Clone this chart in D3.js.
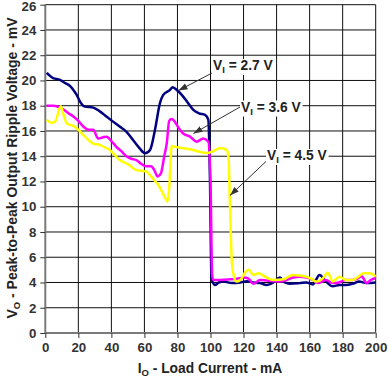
<!DOCTYPE html>
<html><head><meta charset="utf-8">
<script src="https://cdn.jsdelivr.net/npm/d3@7"></script>
<style>
html,body{margin:0;padding:0;background:#fff;}
svg{display:block;font-family:"Liberation Sans",Arial,sans-serif;}
</style></head>
<body><svg id="c" width="388" height="379"></svg>
<script>
// ---- data ----
const xTicks = [0,20,40,60,80,100,120,140,160,180,200];
const yTicks = [0,2,4,6,8,10,12,14,16,18,20,22,24,26];

const v27 = [[0.85,20.6],[4.8,20.18],[8.9,20.05],[11.9,19.8],[14.9,19.57],[16.9,19.26],[19,18.86],[21,18.33],[24,17.93],[29,17.85],[33,17.55],[37,17.14],[41,16.74],[45,16.35],[49,15.95],[53,15.3],[57,14.64],[60.3,14.24],[63.4,14.5],[66.4,16.1],[69.4,18.2],[71.4,18.86],[75.5,19.26],[77.1,19.47],[80,19.2],[83.5,18.72],[86.5,18.2],[89.6,17.67],[93,17.4],[96.7,17.27],[98.7,16.88],[99.7,12],[100.6,4.3],[102.7,3.8],[105,4.0],[108,4.07],[113,3.95],[118,4.0],[122,4.1],[126,4.0],[130,3.95],[134,3.8],[138,4.0],[142,4.4],[145,4.0],[148,3.9],[154,3.95],[158,4.0],[162,3.85],[166,4.6],[170,4.07],[174,3.7],[178,3.8],[182,3.8],[186,3.9],[190,4.07],[194.5,3.95],[200,4.0]];

const v36 = [[0.8,18.0],[5,18.0],[8,17.9],[11,17.7],[14,17.4],[17,17.15],[20,16.8],[23,16.35],[26,16.1],[29,16.1],[32,15.4],[35,15.5],[37,15.55],[40,15.2],[43,14.75],[46,14.4],[49,14.0],[52,13.8],[55,13.7],[58,13.4],[61,13.2],[64,13.2],[66,12.9],[68,12.4],[70,12.65],[72,14.0],[73.5,15.0],[75,16.8],[76.5,16.95],[78,16.8],[79.5,16.5],[81.5,16.1],[83.5,15.8],[87.6,15.55],[91.6,15.15],[95.6,15.4],[98.7,15.15],[100,12],[101,4.6],[101.7,4.2],[106,4.2],[111.8,4.25],[116,4.3],[120,4.4],[123,4.3],[126,3.9],[130,4.2],[134,4.15],[138,4.1],[142,4.07],[146,4.2],[150,4.4],[154,4.45],[158,4.4],[162,4.2],[165,3.95],[170,4.2],[173,4.0],[176,3.95],[182,4.2],[186,4.2],[189,4.3],[191.5,4.5],[194.5,3.95],[197,4.2],[200,4.35]];

const v45 = [[0.8,16.9],[4,16.65],[6,16.75],[9.3,17.95],[11,17.3],[13,16.6],[17,16.4],[20,16.1],[23,15.7],[26,15.3],[29,15.0],[33,14.9],[36,14.7],[39,14.5],[42,14.1],[45,13.7],[48,13.5],[51,13.3],[55,12.9],[58,12.85],[61,12.8],[64,12.4],[66,12.1],[68,11.8],[71,11.1],[73,10.6],[74,10.4],[75,11.5],[76.5,14.8],[78.5,14.75],[83,14.65],[87.6,14.55],[92,14.4],[97.7,14.25],[101.7,14.4],[105.7,14.65],[109.8,14.5],[111,13.7],[111.8,10],[113,5.5],[114,4.6],[115.8,4.07],[118,4.2],[121,4.8],[123,5.0],[126,4.6],[129,4.73],[133,4.46],[138,4.2],[144,4.25],[150,4.6],[154,4.55],[158,4.46],[161,4.3],[164,4.07],[168,4.33],[171,4.78],[174,4.07],[178,4.46],[182,4.2],[186,4.2],[189,4.4],[192.5,4.73],[196.5,4.73],[200,4.46]];

const seriesNames = ["2.7 V","3.6 V","4.5 V"];
const seriesColors = ["#000080","#FF00FF","#FFFF00"];

// ---- chart ----
const svg = d3.select("#c");
const x = d3.scaleLinear().domain([0,200]).range([45.3,375.7]);
const y = d3.scaleLinear().domain([0,26]).range([333,4.7]);

// grid
const g = svg.append("g");
g.selectAll(".vg").data(xTicks.slice(1)).join("line")
  .attr("x1",d=>x(d)).attr("x2",d=>x(d)).attr("y1",y(0)).attr("y2",y(26))
  .attr("stroke","#111").attr("stroke-width",1);
g.selectAll(".hg").data(yTicks.slice(1)).join("line")
  .attr("x1",x(0)).attr("x2",x(200)).attr("y1",d=>y(d)).attr("y2",d=>y(d))
  .attr("stroke","#111").attr("stroke-width",1);

// axes
const xAxis = d3.axisBottom(x).tickValues(xTicks).tickSize(5).tickPadding(5);
const yAxis = d3.axisLeft(y).tickValues(yTicks).tickSize(5).tickPadding(4);
const gx = svg.append("g").attr("transform",`translate(0,${y(0)})`).call(xAxis);
const gy = svg.append("g").attr("transform",`translate(${x(0)},0)`).call(yAxis);
[gx,gy].forEach(a=>{
  a.select(".domain").attr("stroke","#7a7a7a").attr("stroke-width",2);
  a.selectAll(".tick line").attr("stroke","#333");
  a.selectAll(".tick text").attr("fill","#333").attr("font-size",13.3).attr("font-weight","bold")
   .attr("font-family","Liberation Sans, Arial, sans-serif");
});
gx.select(".domain").attr("d",`M${x(0)},0H${x(200)}`);
gy.select(".domain").attr("d",`M0,${y(0)}V${y(26)}`);
// keep top label fully inside the picture
gy.selectAll(".tick text").filter(d=>d===26).attr("dy","0.42em");

// lines
const line = d3.line().x(d=>x(d[0])).y(d=>y(d[1])).curve(d3.curveMonotoneX);
[v27,v36,v45].forEach((s,i)=>{
  svg.append("path").datum(s).attr("d",line).attr("fill","none")
    .attr("stroke",seriesColors[i]).attr("stroke-width",2.5).attr("stroke-linejoin","round");
});

// annotations
const defs = svg.append("defs");
defs.append("marker").attr("id","ah").attr("viewBox","0 0 10 10").attr("refX",10).attr("refY",5)
  .attr("markerWidth",9).attr("markerHeight",9).attr("markerUnits","userSpaceOnUse").attr("orient","auto")
  .append("path").attr("d","M0,1.5L10,5L0,8.5Z").attr("fill","#333");

const annX = [213, 241, 267];
const annY = [70, 111.5, 160];
const arrows = [[213,72.5,178.5,90.5],[240,107,193.5,133.5],[267,160.5,230,195.5]];
arrows.forEach(a=>{
  svg.append("line").attr("x1",a[0]).attr("y1",a[1]).attr("x2",a[2]).attr("y2",a[3])
    .attr("stroke","#333").attr("stroke-width",1).attr("marker-end","url(#ah)");
});
seriesNames.forEach((n,i)=>{
  const t = svg.append("text").attr("x",annX[i]).attr("y",annY[i])
    .attr("font-size",13.8).attr("font-weight","bold").attr("fill","#222");
  t.append("tspan").text("V");
  t.append("tspan").attr("font-size",9.5).attr("dy",3).text("I");
  t.append("tspan").attr("dy",-3).text(" = " + n);
  const bb = t.node().getBBox();
  svg.insert("rect", function(){return t.node();})
    .attr("x",bb.x-1).attr("y",bb.y+1).attr("width",bb.width+2).attr("height",bb.height-1)
    .attr("fill","#fff");
});

// axis titles
const xt = svg.append("text").attr("x",210).attr("y",373).attr("text-anchor","middle")
  .attr("font-size",13.8).attr("font-weight","bold").attr("fill","#222");
xt.append("tspan").text("I");
xt.append("tspan").attr("font-size",9.5).attr("dy",3).text("O");
xt.append("tspan").attr("dy",-3).text(" - Load Current - mA");

const yt = svg.append("text").attr("transform","translate(16.5,168) rotate(-90)").attr("text-anchor","middle")
  .attr("font-size",14).attr("font-weight","bold").attr("fill","#222");
yt.append("tspan").text("V");
yt.append("tspan").attr("font-size",9.5).attr("dy",3).text("O");
yt.append("tspan").attr("dy",-3).text(" - Peak-to-Peak Output Ripple Voltage - mV");
</script></body></html>
